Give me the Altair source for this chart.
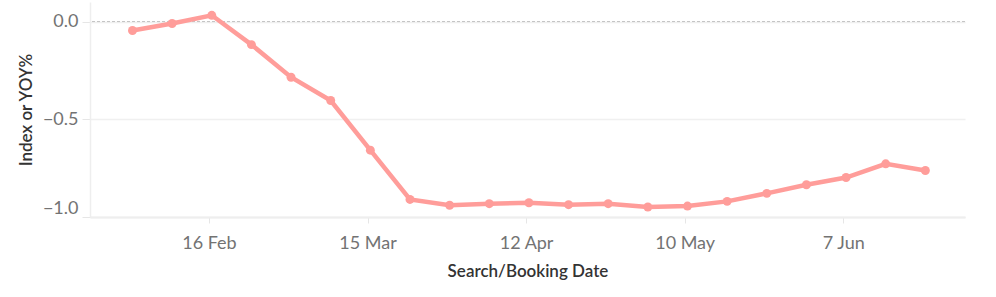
import altair as alt
import pandas as pd

dates = pd.date_range("2020-02-02 12:00", periods=21, freq="7D").strftime("%Y-%m-%dT%H:%M:%S").tolist()
values = [-0.046, -0.010, 0.032, -0.118, -0.285, -0.404, -0.658, -0.910, -0.940, -0.932,
          -0.927, -0.937, -0.932, -0.949, -0.944, -0.920, -0.879, -0.835, -0.798, -0.728, -0.762]
x_ticks = ["2020-02-16", "2020-03-15", "2020-04-12", "2020-05-10", "2020-06-07"]
y_ticks = [0.0, -0.5, -1.0]

df = pd.DataFrame({"date": dates, "value": values})

FONT = "Lato"
COLOR = "#FF9D9A"
YSCALE = alt.Scale(domain=[-1.0, 0.1], nice=False, zero=False)

x_enc = alt.X(
    "date:T",
    title="Search/Booking Date",
    scale=alt.Scale(domain=["2020-01-26T00:00:00", "2020-06-28T12:00:00"]),
    axis=alt.Axis(
        values=[pd.Timestamp(d).isoformat() for d in x_ticks],
        format="%-d %b",
        grid=False,
        domainColor="#eeeeee",
        domainWidth=2,
        tickColor="#e6e6e6",
        tickSize=6,
        labelPadding=11,
        labelFont=FONT,
        labelFontSize=18,
        labelColor="#737373",
        titleFont=FONT,
        titleFontSize=17,
        titleFontWeight=600,
        titleColor="#333333",
        titlePadding=11,
    ),
)
y_enc = alt.Y(
    "value:Q",
    title="Index or YOY%",
    scale=YSCALE,
    axis=alt.Axis(
        values=y_ticks,
        format=".1f",
        grid=True,
        gridColor="#f0f0f0",
        gridWidth=1.5,
        domainColor="#eeeeee",
        domainWidth=1.5,
        tickColor="#e6e6e6",
        tickSize=8,
        labelFlush=True,
        labelPadding=4,
        labelFont=FONT,
        labelFontSize=18,
        labelColor="#737373",
        titleFont=FONT,
        titleFontSize=17,
        titleFontWeight=600,
        titleColor="#333333",
        titlePadding=7,
    ),
)

base = alt.Chart(df)
zero_rule = alt.Chart(pd.DataFrame({"y": [0.0]})).mark_rule(
    color="#c4c4c4", strokeDash=[3, 2], strokeWidth=1
).encode(y=alt.Y("y:Q", scale=YSCALE))
line = base.mark_line(color=COLOR, strokeWidth=4.5).encode(x=x_enc, y=y_enc)
pts = base.mark_point(filled=True, color=COLOR, size=80, opacity=1).encode(x="date:T", y="value:Q")

chart = (
    alt.layer(zero_rule, line, pts)
    .properties(width=875, height=215, padding={"left": 90, "top": 2, "right": 31, "bottom": 80})
    .configure(autosize=alt.AutoSizeParams(type="none"))
    .configure_view(stroke=None)
)
chart.save("out.html", embed_options={"renderer": "svg", "actions": False})
